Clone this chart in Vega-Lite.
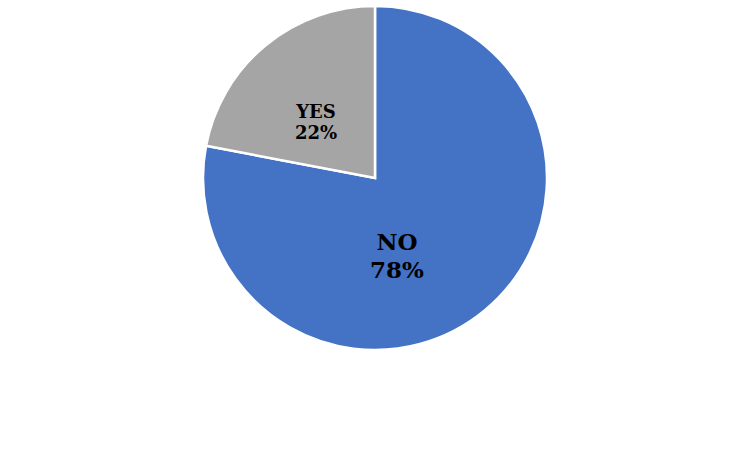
{
  "$schema": "https://vega.github.io/schema/vega-lite/v6.json",
  "width": 750,
  "height": 356,
  "autosize": "none",
  "padding": 0,
  "background": "white",
  "data": {
    "values": [
      {"answer": "NO", "value": 78, "label": "NO\n78%"},
      {"answer": "YES", "value": 22, "label": "YES\n22%"}
    ]
  },
  "encoding": {
    "theta": {"field": "value", "type": "quantitative", "stack": true},
    "order": {"field": "answer", "sort": "ascending"}
  },
  "layer": [
    {
      "mark": {"type": "arc", "outerRadius": 172, "stroke": "white", "strokeWidth": 2.5},
      "encoding": {
        "color": {
          "field": "answer", "type": "nominal", "legend": null,
          "scale": {"domain": ["NO", "YES"], "range": ["#4472C4", "#A5A5A5"]}
        }
      }
    },
    {
      "mark": {"type": "text", "radius": 80, "font": "DejaVu Serif", "fontWeight": "bold",
               "fontSize": 23, "lineHeight": 28, "lineBreak": "\n", "baseline": "middle",
               "align": "center", "color": "black", "dx": -29, "dy": 3},
      "encoding": {
        "text": {"condition": {"test": "datum.answer === 'NO'", "field": "label"}, "value": ""}
      }
    },
    {
      "mark": {"type": "text", "radius": 80, "font": "DejaVu Serif", "fontWeight": "bold",
               "fontSize": 18, "lineHeight": 21, "lineBreak": "\n", "baseline": "middle",
               "align": "center", "color": "black", "dx": -8, "dy": -3},
      "encoding": {
        "text": {"condition": {"test": "datum.answer === 'YES'", "field": "label"}, "value": ""}
      }
    }
  ],
  "config": {"view": {"stroke": null}}
}
